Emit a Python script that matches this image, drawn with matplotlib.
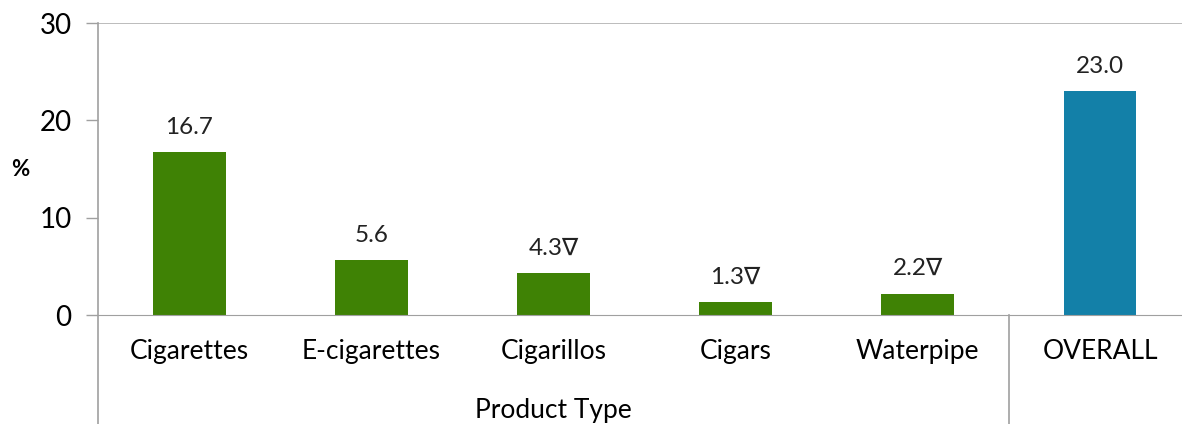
import matplotlib.pyplot as plt

plt.rcParams['font.family'] = ['Lato', 'DejaVu Sans']

products = ["Cigarettes", "E-cigarettes", "Cigarillos", "Cigars", "Waterpipe", "OVERALL"]
values = [16.7, 5.6, 4.3, 1.3, 2.2, 23.0]
labels = ["16.7", "5.6", "4.3\u2207", "1.3\u2207", "2.2\u2207", "23.0"]
bar_colors = ["#3f8205"] * 5 + ["#1380a8"]

W, H = 1182, 424
fig = plt.figure(figsize=(W / 100, H / 100), dpi=100)
# axes box in pixels: left 98, top 23 (y=30), bottom 315 (y=0)
ax = fig.add_axes([98 / W, 1 - 315 / H, (W - 98) / W, (315 - 23) / H])

x = list(range(len(products)))
ax.bar(x, values, width=0.4, color=bar_colors, zorder=2)

for xi, v, lab in zip(x, values, labels):
    ax.text(xi, v + 1.5, lab, ha='center', va='bottom', fontsize=17.5, color='#222222')

ax.set_ylim(0, 30)
ax.set_xlim(-0.5, 5.45)
ax.set_yticks([0, 10, 20, 30])
ax.tick_params(axis='y', labelsize=20, length=9, color='#a0a0a0', width=1, pad=10)
ax.set_xticks(x)
ax.set_xticklabels(products, fontsize=19)
ax.tick_params(axis='x', length=0, pad=17)
ax.set_ylabel('%', rotation=0, fontsize=16, fontweight='bold', va='center')
ax.yaxis.set_label_coords(-0.072, 0.5)

for s in ['top', 'right']:
    ax.spines[s].set_visible(False)
ax.spines['left'].set_visible(False)
ax.spines['bottom'].set_color('#a0a0a0')

# top border line at 30 and group dividers running below the axis
ax.axhline(30, color='#b0b0b0', lw=1.2, zorder=1)
ax.plot([-0.5, -0.5], [-12, 30], color='#a0a0a0', lw=1.2, clip_on=False)
ax.plot([4.5, 4.5], [-12, 0], color='#a0a0a0', lw=1.2, clip_on=False)

ax.text(2.0, -9.8, 'Product Type', ha='center', va='center', fontsize=19)

fig.savefig('out.png', dpi=100)
